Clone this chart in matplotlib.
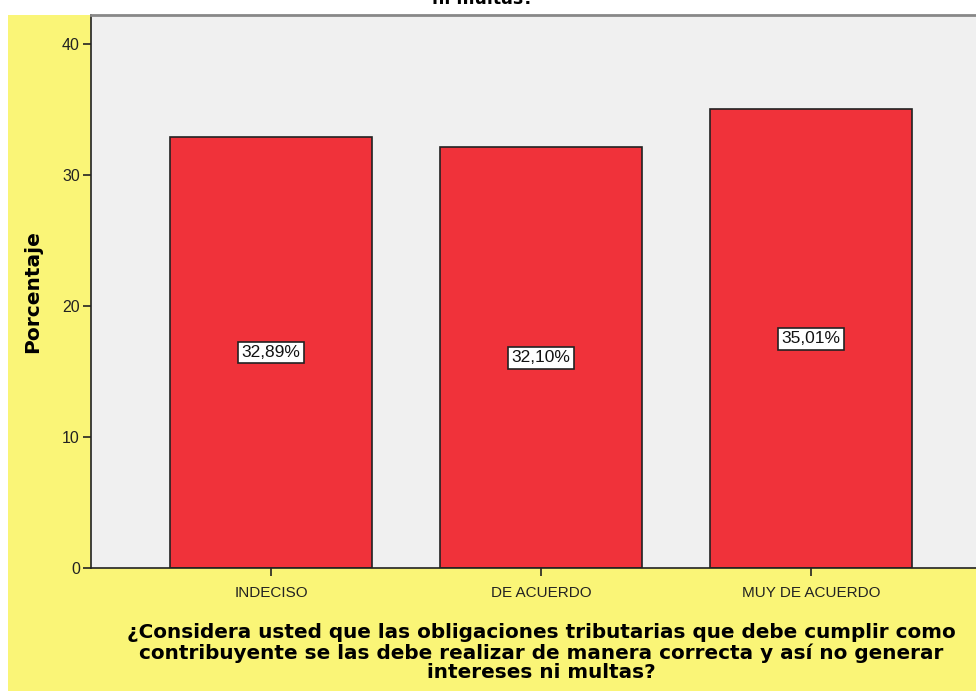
import matplotlib.pyplot as plt
from matplotlib.patches import Rectangle

# Data
categories = ["INDECISO", "DE ACUERDO", "MUY DE ACUERDO"]
percentages = [32.89, 32.10, 35.01]
value_labels = ["32,89%", "32,10%", "35,01%"]
y_ticks = [0, 10, 20, 30, 40]

TITLE_TAIL = "ni multas?"
X_TITLE = ("¿Considera usted que las obligaciones tributarias que debe cumplir como\n"
           "contribuyente se las debe realizar de manera correcta y así no generar\n"
           "intereses ni multas?")

YELLOW = "#faf577"
PLOT_BG = "#f0f0f0"
BAR_RED = "#f0323a"

W, H = 976, 693
fig = plt.figure(figsize=(W / 100, H / 100), dpi=100)
fig.patch.set_facecolor("white")

# yellow chart frame, behind the axes
frame = Rectangle((8 / W, 2 / H), 1, (H - 15 - 2) / H,
                  transform=fig.transFigure, facecolor=YELLOW,
                  edgecolor="none", zorder=-10)
fig.add_artist(frame)

# axes (right side runs past the figure edge, like the crop)
left, right, top, bottom = 91, 991, 15, 568
ax = fig.add_axes([left / W, (H - bottom) / H, (right - left) / W, (bottom - top) / H])
ax.set_zorder(1)
ax.set_facecolor(PLOT_BG)

x = list(range(len(categories)))
ax.bar(x, percentages, width=0.748, color=BAR_RED, edgecolor="#222222",
       linewidth=1.2, zorder=2)

for xi, val, lab in zip(x, percentages, value_labels):
    ax.text(xi, val / 2, lab, ha="center", va="center", fontsize=12.5,
            family="Liberation Sans", color="#111111", zorder=3,
            bbox=dict(boxstyle="square,pad=0.2", facecolor="white",
                      edgecolor="#222222", linewidth=1.2))

ax.set_xlim(-0.667, 2.667)
ax.set_ylim(0, 42.2)
ax.set_xticks(x)
ax.set_xticklabels(categories, family="Liberation Sans", fontsize=11, color="#222222")
ax.set_yticks(y_ticks)
ax.set_yticklabels([str(t) for t in y_ticks], family="Liberation Sans", fontsize=11.5,
                   color="#222222")
ax.tick_params(axis="both", direction="out", length=6, width=1.2, color="#222222", pad=2)
ax.tick_params(axis="x", pad=7)

for side in ["left", "bottom"]:
    ax.spines[side].set_color("#222222")
    ax.spines[side].set_linewidth(1.2)
ax.spines["top"].set_color("#888888")
ax.spines["top"].set_linewidth(2)
ax.spines["right"].set_visible(False)

ax.set_ylabel("Porcentaje", family="DejaVu Sans", fontweight="bold", fontsize=14.5)
ax.yaxis.set_label_coords(-0.054, 0.5)
ax.set_xlabel(X_TITLE, family="DejaVu Sans", fontweight="bold", fontsize=14.4,
              linespacing=1.05)
ax.xaxis.set_label_coords(0.5, -0.1)

# last line of the cut-off title
fig.text(483 / W, 1 - 4 / H, TITLE_TAIL, ha="center", va="baseline",
         family="DejaVu Sans", fontweight="bold", fontsize=12.5)

fig.savefig("out.png", dpi=100)
